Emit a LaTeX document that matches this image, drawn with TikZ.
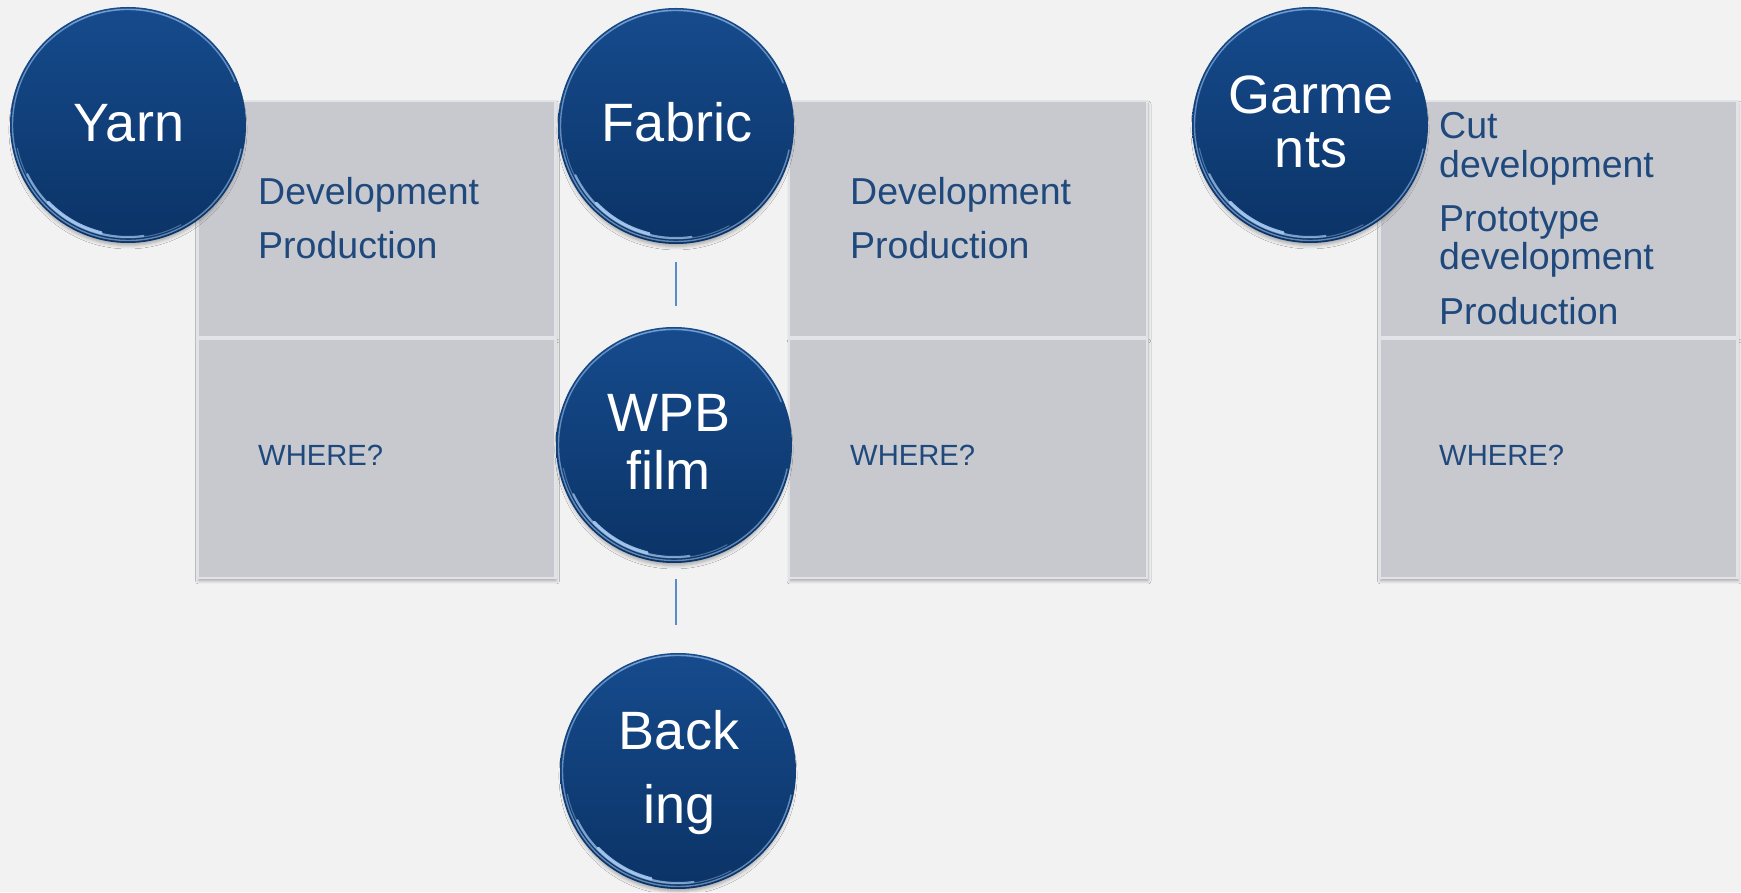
\documentclass[tikz,border=0pt]{standalone}
\usepackage{fontspec}
\setmainfont{Liberation Sans}
\usetikzlibrary{shadows.blur}
\definecolor{bgc}{HTML}{F2F2F2}
\definecolor{panelc}{HTML}{C8C9CE}
\definecolor{paneledge}{HTML}{E2E3E7}
\definecolor{textblue}{HTML}{1F497D}
\definecolor{beadtop}{HTML}{164B8D}
\definecolor{beadbot}{HTML}{0B3366}
\definecolor{hlc}{HTML}{A9CCF3}
\definecolor{connc}{HTML}{5B8BC9}
\newcommand\mkbead[3]{%
  \node[bead] (#1) at (#2,#3) {};
  \draw[hl, line width=1.0pt, opacity=0.4] (#1.center) ++(192:113) arc[start angle=192, end angle=298, radius=113];
  \draw[hl, line width=2.0pt, opacity=0.7] (#1.center) ++(206:112) arc[start angle=206, end angle=278, radius=112];
  \draw[hl, line width=3.0pt, opacity=0.9] (#1.center) ++(224:111) arc[start angle=224, end angle=256, radius=111];
  \draw[hl, line width=1.4pt, opacity=0.55] (#1.center) ++(348:115.5) arc[start angle=348, end angle=22, radius=115.5];
  \draw[hl, line width=1.0pt, opacity=0.3] (#1.center) ++(60:116) arc[start angle=60, end angle=120, radius=116];
}
\begin{document}
\begin{tikzpicture}[x=1pt,y=1pt,
  panel/.style={rectangle, inner sep=0pt, outer sep=0pt, fill=panelc, draw=paneledge, line width=2.5pt,
    minimum width=358pt,
    blur shadow={shadow xshift=1pt, shadow yshift=-3pt, shadow blur radius=3pt, shadow opacity=30}},
  bead/.style={circle, minimum size=236pt, inner sep=0pt, outer sep=0pt, draw=none,
    top color=beadtop, bottom color=beadbot,
    blur shadow={shadow xshift=0pt, shadow yshift=-5pt, shadow scale=0.98, shadow blur radius=3.5pt, shadow opacity=30}},
  hl/.style={draw=hlc, line cap=round},
  beadlabel/.style={text=white, font=\fontsize{54}{60}\selectfont, inner sep=0pt, anchor=base},
  paneltext/.style={text=textblue, font=\fontsize{37.5}{45}\selectfont, inner sep=0pt, anchor=base west},
  wheretext/.style={text=textblue, font=\fontsize{29.2}{35}\selectfont, inner sep=0pt, anchor=base west},
  conn/.style={draw=connc, line width=1.6pt}]
\fill[bgc] (0,0) rectangle (1741,892);
\useasboundingbox (0,0) rectangle (1741,892);

% panels
\node[panel, minimum height=236pt] (yarnTop) at (376.5,673) {};
\node[panel, minimum height=239pt] (yarnBot) at (376.5,433.5) {};
\node[panel, minimum height=236pt] (fabricTop) at (968,673) {};
\node[panel, minimum height=239pt] (fabricBot) at (968,433.5) {};
\node[panel, minimum height=236pt] (garmTop) at (1558.5,673) {};
\node[panel, minimum height=239pt] (garmBot) at (1558.5,433.5) {};

% panel texts
\node[paneltext] (yarnDev) at (258,687) {Development};
\node[paneltext] (yarnProd) at (258,633) {Production};
\node[wheretext] (yarnWhere) at (258,426) {WHERE?};
\node[paneltext] (fabricDev) at (850,687) {Development};
\node[paneltext] (fabricProd) at (850,633) {Production};
\node[wheretext] (fabricWhere) at (850,426) {WHERE?};
\node[paneltext] (garmCut) at (1439,753) {Cut};
\node[paneltext] (garmCutDev) at (1439,714) {development};
\node[paneltext] (garmProto) at (1439,660) {Prototype};
\node[paneltext] (garmProtoDev) at (1439,622) {development};
\node[paneltext] (garmProd) at (1439,567) {Production};
\node[wheretext] (garmWhere) at (1439,426) {WHERE?};

% beads
\mkbead{yarn}{128}{767}
\mkbead{fabric}{676}{766}
\mkbead{wpb}{674}{447}
\mkbead{backing}{678}{121}
\mkbead{garments}{1310}{767}

% connectors
\draw[conn, shorten <=18pt, shorten >=21pt] (fabric.south) -- (fabric.south |- wpb.north);
\draw[conn, shorten <=16pt, shorten >=28pt] (fabric.south |- wpb.south) -- (fabric.south |- backing.north);

% bead labels
\node[beadlabel] (yarnL) at (129,750) {Yarn};
\node[beadlabel] (fabricL) at (677,750) {Fabric};
\node[beadlabel] (wpbL1) at (669,460) {WPB};
\node[beadlabel] (wpbL2) at (668,402) {film};
\node[beadlabel] (backL1) at (679,142) {Back};
\node[beadlabel] (backL2) at (680,68) {ing};
\node[beadlabel] (garmL1) at (1311,778) {Garme};
\node[beadlabel] (garmL2) at (1311,724) {nts};
\end{tikzpicture}
\end{document}
